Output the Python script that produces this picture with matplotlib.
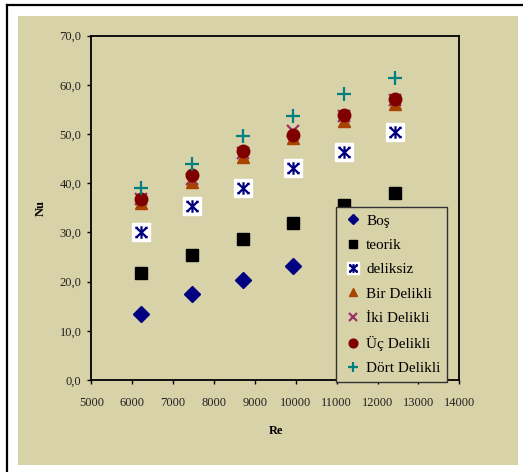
import matplotlib
matplotlib.use("Agg")
import matplotlib.pyplot as plt
from matplotlib.path import Path
from matplotlib.lines import Line2D
from matplotlib.patches import Rectangle

# Reynolds numbers of the measurement points
re_vals = [6220, 7460, 8710, 9940, 11190, 12420]

# Nusselt numbers per configuration
nu_bos = [13.5, 17.5, 20.4, 23.2, 26.0, 28.8]
nu_teorik = [21.8, 25.5, 28.7, 32.0, 35.5, 38.1]
nu_deliksiz = [30.0, 35.4, 39.1, 43.2, 46.4, 50.5]
nu_bir = [35.9, 40.3, 45.3, 49.3, 52.6, 56.2]
nu_iki = [36.9, 40.9, 46.2, 50.7, 53.6, 57.0]
nu_uc = [36.8, 41.7, 46.6, 49.8, 53.9, 57.1]
nu_dort = [39.1, 43.9, 49.6, 53.7, 58.1, 61.4]

series_labels = ["Boş", "teorik", "deliksiz", "Bir Delikli",
                 "İki Delikli", "Üç Delikli", "Dört Delikli"]

x_ticks = [5000, 6000, 7000, 8000, 9000, 10000, 11000, 12000, 13000, 14000]
y_ticks = [0, 10, 20, 30, 40, 50, 60, 70]
y_tick_labels = ["0,0", "10,0", "20,0", "30,0", "40,0", "50,0", "60,0", "70,0"]

BG = "#D8D2A8"
W, H = 523, 472

plt.rcParams["font.family"] = ["Liberation Serif", "DejaVu Serif"]

fig = plt.figure(figsize=(W / 100, H / 100), dpi=100)
fig.patch.set_facecolor("white")

# tan chart area and black frame lines
fig.add_artist(Rectangle((18 / W, 1 - 465 / H), 500 / W, 449 / H,
                         transform=fig.transFigure, facecolor=BG,
                         edgecolor="none", zorder=0))
fig.add_artist(Line2D([7 / W, 1.0], [1 - 5 / H, 1 - 5 / H],
                      transform=fig.transFigure, color="black", lw=1.6))
fig.add_artist(Line2D([7 / W, 7 / W], [0.0, 1 - 5 / H],
                      transform=fig.transFigure, color="black", lw=1.6))

ax = fig.add_axes([91.3 / W, 1 - 380 / H, 368 / W, 344.3 / H])
ax.set_facecolor(BG)

# asterisk marker used for the "deliksiz" series
star_path = Path(
    [(0, -1), (0, 1), (-0.8, -0.75), (0.8, 0.75), (-0.8, 0.75), (0.8, -0.75),
     (-1.0, 0.75), (-0.55, 0.75), (0.55, 0.75), (1.0, 0.75),
     (-1.0, -0.75), (-0.55, -0.75), (0.55, -0.75), (1.0, -0.75)],
    [Path.MOVETO, Path.LINETO, Path.MOVETO, Path.LINETO, Path.MOVETO, Path.LINETO,
     Path.MOVETO, Path.LINETO, Path.MOVETO, Path.LINETO,
     Path.MOVETO, Path.LINETO, Path.MOVETO, Path.LINETO])

h_bos, = ax.plot(re_vals, nu_bos, ls="none", marker="D", ms=8,
                 mfc="#000080", mec="#000080")
h_teo, = ax.plot(re_vals, nu_teorik, ls="none", marker="s", ms=8,
                 mfc="black", mec="black")
h_box, = ax.plot(re_vals, nu_deliksiz, ls="none", marker="s", ms=13,
                 mfc="white", mec="white")
h_del, = ax.plot(re_vals, nu_deliksiz, ls="none", marker=star_path, ms=9,
                 mfc="none", mec="#000080", mew=1.6)
h_bir, = ax.plot(re_vals, nu_bir, ls="none", marker="^", ms=9,
                 mfc="#A84300", mec="#A84300")
h_iki, = ax.plot(re_vals, nu_iki, ls="none", marker="x", ms=8.5,
                 mec="#993366", mew=1.6)
h_uc, = ax.plot(re_vals, nu_uc, ls="none", marker="o", ms=9,
                mfc="#800000", mec="#800000")
h_dort, = ax.plot(re_vals, nu_dort, ls="none", marker="+", ms=10,
                  mec="#008080", mew=1.6)

ax.set_xlim(5000, 14000)
ax.set_ylim(0, 70)
ax.set_xticks(x_ticks)
ax.set_xticklabels([str(v) for v in x_ticks])
ax.set_yticks(y_ticks)
ax.set_yticklabels(y_tick_labels)
for s in ax.spines.values():
    s.set_color("black")
    s.set_linewidth(1.3)
ax.tick_params(axis="both", direction="out", length=3, width=1,
               colors="black", labelsize=9, labelcolor="#222222")
ax.tick_params(axis="x", pad=9)
ax.tick_params(axis="y", pad=4)

fig.text(276 / W, 1 - 431 / H, "Re", ha="center", va="center",
         fontsize=9, fontweight="bold")
fig.text(41 / W, 1 - 208 / H, "Nu", ha="center", va="center",
         fontsize=9, fontweight="bold", rotation=90)

leg = ax.legend([h_bos, h_teo, (h_box, h_del), h_bir, h_iki, h_uc, h_dort],
                series_labels, loc="upper left",
                bbox_to_anchor=(335.5 / W, 1 - 207 / H),
                bbox_transform=fig.transFigure,
                prop={"size": 11}, markerscale=0.7, numpoints=1,
                frameon=True, fancybox=False, framealpha=1.0,
                edgecolor="#333333", facecolor=BG, borderpad=0.45,
                labelspacing=0.7, handlelength=1.4, handletextpad=0.15,
                borderaxespad=0)
leg.get_frame().set_linewidth(1.0)
leg.set_zorder(10)

fig.savefig("out.png", dpi=100, facecolor="white")
